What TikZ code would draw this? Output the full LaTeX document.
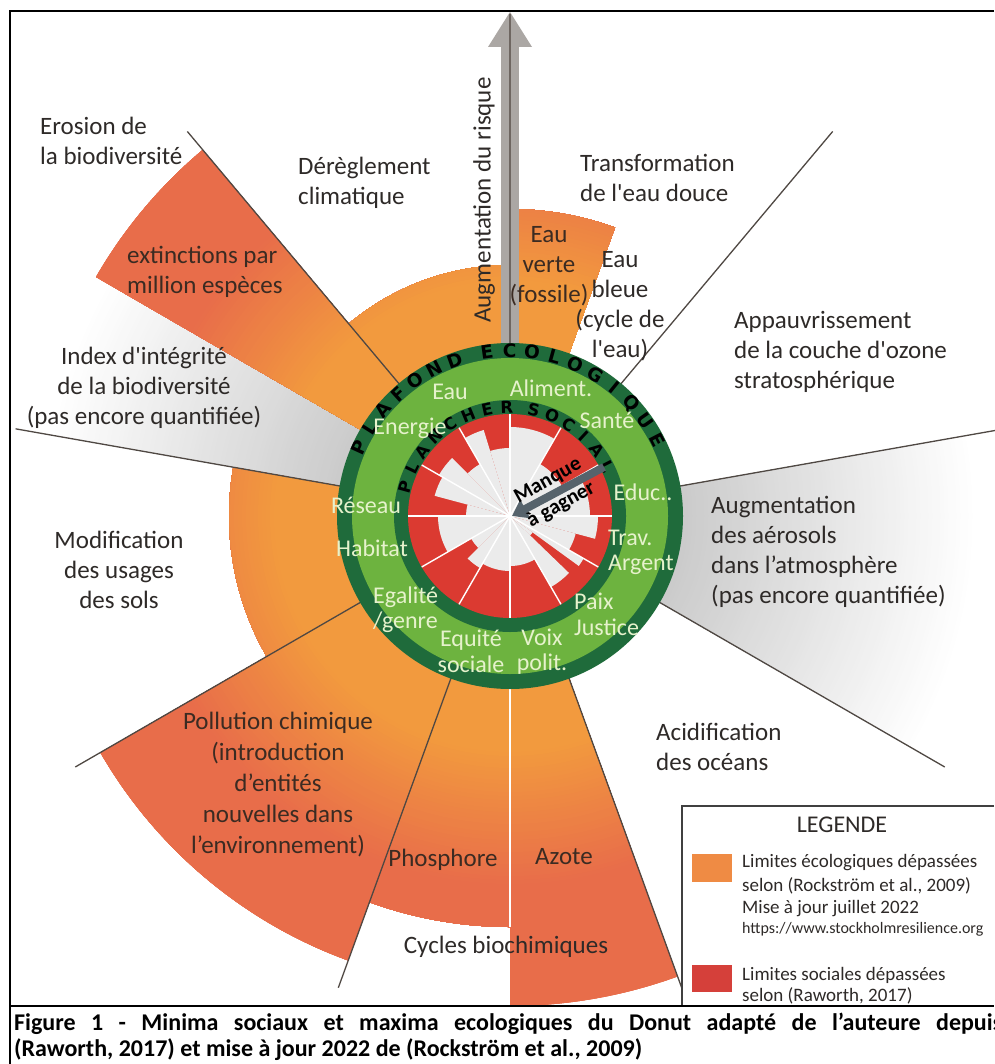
\documentclass[tikz,border=0pt]{standalone}
\usepackage{fontspec}
\setmainfont{Carlito}
\newfontfamily\ringfont{DejaVu Sans}
\usetikzlibrary{arrows.meta}

\definecolor{eorange}{HTML}{F29A3E}
\definecolor{ered}{HTML}{E86D4A}
\definecolor{dgreen}{HTML}{1F6B3B}
\definecolor{lgreen}{HTML}{6DB33F}
\definecolor{sred}{HTML}{DB3A31}
\definecolor{coregray}{HTML}{EBEBEB}
\definecolor{txt}{HTML}{2E2A28}
\definecolor{txtin}{HTML}{3B2B22}
\definecolor{pale}{HTML}{E6F2CC}
\definecolor{lgray}{HTML}{CBCBCB}
\definecolor{arrowgray}{HTML}{ABA7A4}
\definecolor{arrowdark}{HTML}{6E6661}
\definecolor{slate}{HTML}{56636C}
\definecolor{divcol}{HTML}{4F4843}
\definecolor{legorange}{HTML}{EF8B44}
\definecolor{legred}{HTML}{D5403A}

\newcommand{\apo}{\textquotesingle}

\tikzset{
  lab/.style={font=\fontsize{25}{30}\selectfont, text=txt, inner sep=0pt},
  labin/.style={lab, text=txtin},
  ringlab/.style={font=\fontsize{24}{25.5}\selectfont, text=pale, inner sep=0pt},
  letterout/.style={font=\ringfont\bfseries\fontsize{18.5}{18.5}\selectfont, inner sep=0pt, text=black},
  letterin/.style={font=\ringfont\bfseries\fontsize{16.5}{16.5}\selectfont, inner sep=0pt, text=black},
  divider/.style={draw=divcol, line width=1.3pt},
  legtext/.style={font=\fontsize{19}{22}\selectfont, text=txt, inner sep=0pt, anchor=base west},
  manq/.style={font=\bfseries\fontsize{21}{21}\selectfont, text=black, inner sep=0pt},
  captext/.style={anchor=base west, inner sep=0pt, font=\bfseries\fontsize{24}{26}\selectfont},
}

\begin{document}
\begin{tikzpicture}[x=1pt,y=1pt]
\useasboundingbox (0,0) rectangle (994,-1064);
\fill[white] (0,0) rectangle (994,-1064);
\coordinate (C) at (510,-516);

% not yet quantified wedges (gray gradient)
\begin{scope}
\clip (C) -- ++(150:560) arc[start angle=150,end angle=170,radius=560] -- cycle
      (C) -- ++(-30:560) arc[start angle=-30,end angle=10,radius=560] -- cycle;
\foreach \r in {470,466,...,170} {
  \pgfmathtruncatemacro\p{max(0,min(100,(\r-175)/2.9))}
  \fill[white!\p!lgray] (C) circle[radius=\r];
}
\end{scope}

% transgressed boundaries (orange to red-orange gradient)
\begin{scope}
\clip (C) -- ++(90:251) arc[start angle=90,end angle=130,radius=251] -- cycle
      (C) -- ++(130:478) arc[start angle=130,end angle=150,radius=478] -- cycle
      (C) -- ++(170:281) arc[start angle=170,end angle=210,radius=281] -- cycle
      (C) -- ++(210:473) arc[start angle=210,end angle=250,radius=473] -- cycle
      (C) -- ++(250:411) arc[start angle=250,end angle=270,radius=411] -- cycle
      (C) -- ++(270:490) arc[start angle=270,end angle=290,radius=490] -- cycle
      (C) -- ++(70:307) arc[start angle=70,end angle=90,radius=307] -- cycle;
\foreach \r in {500,496,...,172} {
  \pgfmathtruncatemacro\p{max(0,min(100,(\r-235)/1.35))}
  \fill[ered!\p!eorange] (C) circle[radius=\r];
}
\end{scope}

\draw[white, line width=1.2pt] (C) -- ++(270:411);

% dividers
\foreach \a in {130,170,210,250,290,330,10,50}
  \draw[divider] (C) ++(\a:170) -- ++(\a:332);

% risk arrow
\fill[arrowgray] (501,-47) rectangle (519,-345);
\fill[arrowgray] (488,-47) -- (510,-12) -- (532,-47) -- cycle;
\draw[arrowdark, line width=1.8pt] (510,-14) -- (510,-345);

% rings
\fill[dgreen] (C) circle[radius=173];
\fill[lgreen] (C) circle[radius=158];
\fill[dgreen] (C) circle[radius=116];
\fill[sred] (C) circle[radius=102];
\foreach \s/\e/\r in {60/90/89, 30/60/60, 0/30/80, -15/0/88, -30/-15/68, -36/-30/85, -44/-36/28, -60/-44/82, -90/-60/50, -120/-90/55, -135/-120/60, -150/-135/45, -180/-150/72, 150/165/78, 165/180/44, 120/135/60, 135/150/82, 90/107/68, 107/120/90}
  \fill[coregray] (C) -- ++(\s:\r) arc[start angle=\s,end angle=\e,radius=\r] -- cycle;
\foreach \a in {0,30,...,330}
  \draw[white, line width=1.4pt] (C) -- ++(\a:102);

% ring letters
\foreach \ch/\a [count=\i] in {P/155.5,L/147.85,A/140.2,F/132.55,O/124.9,N/117.25,D/109.6,E/98,C/90.15,O/82.3,L/74.45,O/66.6,G/58.75,I/50.9,Q/43.05,U/35.2,E/27.35}
  \node[letterout, rotate=\a-90] (po\i) at ([shift={(\a:165.5)}]C) {\ch};
\foreach \ch/\a [count=\i] in {P/164.5,L/154.1,A/143.7,N/133.3,C/122.9,H/112.5,E/102.1,R/91.7,S/77.4,O/67.3,C/57.2,I/47.1,A/37,L/26.9}
  \node[letterin, rotate=\a-90] (ps\i) at ([shift={(\a:109)}]C) {\ch};

% ring labels
\node[ringlab] (eau) at (450,-392) {Eau};
\node[ringlab] (alim) at (551,-388) {Aliment.};
\node[ringlab] (ener) at (410,-428) {Energie};
\node[ringlab] (sante) at (607,-420) {Santé};
\node[ringlab] (reseau) at (366,-505) {Réseau};
\node[ringlab] (educ) at (643,-492) {Educ..};
\node[ringlab] (habitat) at (372,-548) {Habitat};
\node[ringlab, align=left, anchor=west] (trav) at (608,-552.5) {Trav.\\Argent};
\node[ringlab, align=left, anchor=west] (egal) at (373,-609.5) {Egalité\\/genre};
\node[ringlab, align=left, anchor=west] (paix) at (574,-614.5) {Paix\\Justice};
\node[ringlab, align=center] (equite) at (471,-651.5) {Equité\\sociale};
\node[ringlab, align=center] (voix) at (542,-651.5) {Voix\\polit.};

% shortfall arrow
\coordinate (mtail) at (604,-467);
\coordinate (mtip) at (512,-516);
\draw[draw=slate, line width=8pt, -{Triangle[width=20pt,length=15pt]}] (mtail) -- (mtip);
\node[manq, rotate=29] (manque) at (548,-481) {Manque};
\node[manq, rotate=29] (gagner) at (561,-505) {à gagner};

% outer labels
\node[lab, align=left, anchor=west] (ero) at (40,-140.5) {Erosion de\\la biodiversité};
\node[lab, align=left, anchor=west] (clim) at (298,-183) {Dérèglement\\climatique};
\node[labin, align=left, anchor=west] (ext) at (127,-272) {extinctions par\\million espèces};
\node[lab, align=center] (idx) at (144,-387.5) {Index d\apo intégrité\\de la biodiversité\\(pas encore quantifiée)};
\node[lab, rotate=90] (risk) at (484,-200) {Augmentation du risque};
\node[lab, align=left, anchor=west] (eaud) at (580,-178) {Transformation\\de l\apo eau douce};
\node[labin, align=center] (verte) at (549,-266) {Eau\\verte\\(fossile)};
\node[lab, align=center] (bleue) at (620,-306) {Eau\\bleue\\(cycle de\\l\apo eau)};
\node[lab, align=left, anchor=west] (ozone) at (734,-352) {Appauvrissement\\de la couche d\apo ozone\\stratosphérique};
\node[lab, align=left, anchor=west] (aer) at (711,-552) {Augmentation\\des aérosols\\dans l’atmosphère\\(pas encore quantifiée)};
\node[lab, align=left, anchor=west] (acid) at (656,-747) {Acidification\\des océans};
\node[lab, align=center] (sols) at (119,-570) {Modification\\des usages\\des sols};
\node[labin, align=center, font=\fontsize{25}{31}\selectfont] (poll) at (278,-785) {Pollution chimique\\(introduction\\d’entités\\nouvelles dans\\l’environnement)};
\node[labin] (phos) at (443,-860) {Phosphore};
\node[labin] (azote) at (564,-857) {Azote};
\node[lab] (cycles) at (506,-947) {Cycles biochimiques};

% legend
\draw[draw=black!75, line width=1.5pt] (994,-806) -- (682,-806) -- (682,-1006);
\node[lab, font=\fontsize{24}{26}\selectfont] (legt) at (842,-825) {LEGENDE};
\fill[legorange] (692,-854) rectangle (732,-882);
\node[legtext] (leg1) at (742,-867) {Limites écologiques dépassées};
\node[legtext] (leg2) at (742,-891) {selon (Rockström et al., 2009)};
\node[legtext] (leg3) at (742,-913) {Mise à jour juillet 2022};
\node[legtext, font=\fontsize{16}{18}\selectfont] (leg4) at (742,-933) {https://www.stockholmresilience.org};
\fill[legred] (692,-965) rectangle (732,-992);
\node[legtext] (leg5) at (742,-980) {Limites sociales dépassées};
\node[legtext] (leg6) at (742,-1001) {selon (Raworth, 2017)};

% frame
\draw[line width=1.6pt] (994,-11) -- (10,-11) -- (10,-1064);
\draw[line width=2.4pt] (10,-1006) -- (994,-1006);

% caption
\node[captext] (cap1) at (14,-1030) {\makebox[988pt][s]{Figure 1 - Minima sociaux et maxima ecologiques du Donut adapté de l’auteure depuis}};
\node[captext] (cap2) at (14,-1056) {(Raworth, 2017) et mise à jour 2022 de (Rockström et al., 2009)};
\end{tikzpicture}
\end{document}
